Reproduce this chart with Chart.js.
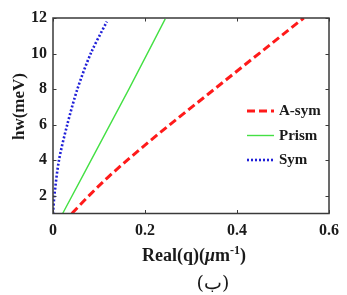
<!DOCTYPE html>
<html>
<head>
<meta charset="utf-8">
<script src="https://cdn.jsdelivr.net/npm/chart.js@4/dist/chart.umd.min.js"></script>
<style>
html,body{margin:0;padding:0;background:#fff;}
#wrap{width:347px;height:295px;position:relative;}
</style>
</head>
<body>
<div id="wrap"><canvas id="c" width="347" height="295"></canvas></div>
<script>
// ---- data ----
const seriesNames = ["A-sym", "Prism", "Sym"];
const asymQ = [0.041, 0.080, 0.120, 0.207, 0.351, 0.545];
const asymE = [1, 2.05, 3.05, 5.0, 8.0, 12];
const prismQ = [0.021, 0.165, 0.244];
const prismE = [1, 8.0, 11.95];
const symQ = [0.0, 0.003, 0.013, 0.031, 0.053, 0.082, 0.117];
const symE = [1, 2, 4, 6, 8, 10, 11.8];
const xTicks = [0, 0.2, 0.4, 0.6];
const yTicks = [2, 4, 6, 8, 10, 12];
const xTitleParts = ["Real(q)(", "\u03BC", "m", "-1", ")"];
const yTitle = "hw(meV)";
const caption = "(\u0628)";

const pts = (xs, ys) => xs.map((x, i) => ({x: x, y: ys[i]}));
const SERIF = "'Liberation Serif', 'Times New Roman', serif";
const AXIS = "#3a3a3a";

const boxPlugin = {
  id: 'box',
  afterDraw(chart) {
    const ctx = chart.ctx, a = chart.chartArea;
    const xs = chart.scales.x, ys = chart.scales.y;
    ctx.save();
    ctx.strokeStyle = AXIS;
    ctx.lineWidth = 1.5;
    ctx.strokeRect(a.left, a.top, a.right - a.left, a.bottom - a.top);
    ctx.lineWidth = 1;
    const tl = 3.5;
    ctx.beginPath();
    xTicks.forEach(v => {
      const px = Math.round(xs.getPixelForValue(v)) + 0.5;
      ctx.moveTo(px, a.bottom); ctx.lineTo(px, a.bottom - tl);
      ctx.moveTo(px, a.top); ctx.lineTo(px, a.top + tl);
    });
    yTicks.forEach(v => {
      const py = Math.round(ys.getPixelForValue(v)) + 0.5;
      ctx.moveTo(a.left, py); ctx.lineTo(a.left + tl, py);
      ctx.moveTo(a.right, py); ctx.lineTo(a.right - tl, py);
    });
    ctx.stroke();

    // legend
    const rows = [111, 135.5, 160];
    chart.data.datasets.forEach((ds, i) => {
      const y = rows[i];
      ctx.strokeStyle = ds.borderColor;
      ctx.lineWidth = ds.borderWidth;
      ctx.setLineDash(ds.borderDash || []);
      ctx.lineCap = 'butt';
      ctx.beginPath();
      ctx.moveTo(247, y); ctx.lineTo(274, y);
      ctx.stroke();
      ctx.setLineDash([]);
      ctx.fillStyle = '#1a1a1a';
      ctx.font = "bold 15px " + SERIF;
      ctx.textBaseline = 'middle';
      ctx.textAlign = 'left';
      ctx.fillText(ds.label, 279, y + 0.5);
    });

    // y title
    ctx.save();
    ctx.translate(20, 106.5);
    ctx.rotate(-Math.PI / 2);
    ctx.font = "bold 17px " + SERIF;
    ctx.fillStyle = '#1a1a1a';
    ctx.textAlign = 'center';
    ctx.textBaseline = 'middle';
    ctx.fillText(yTitle, 0, 0);
    ctx.restore();

    // x title with italic mu and superscript
    const base = 261;
    const fonts = ["bold 18px " + SERIF, "italic bold 18px " + SERIF, "bold 18px " + SERIF, "bold 12px " + SERIF, "bold 18px " + SERIF];
    const offs = [0, 0, 0, -7.5, 0];
    let widths = xTitleParts.map((t, i) => { ctx.font = fonts[i]; return ctx.measureText(t).width; });
    const total = widths.reduce((s, w) => s + w, 0);
    let x = 194 - total / 2;
    ctx.fillStyle = '#1a1a1a';
    ctx.textAlign = 'left';
    ctx.textBaseline = 'alphabetic';
    xTitleParts.forEach((t, i) => {
      ctx.font = fonts[i];
      ctx.fillText(t, x, base + offs[i]);
      x += widths[i];
    });

    // caption
    ctx.font = "19px 'DejaVu Serif', 'Noto Sans', serif";
    ctx.textAlign = 'center';
    ctx.textBaseline = 'middle';
    ctx.fillText(caption, 213, 284);
    ctx.restore();
  }
};

new Chart(document.getElementById('c'), {
  type: 'scatter',
  data: {
    datasets: [
      {label: seriesNames[0], data: pts(asymQ, asymE), showLine: true, borderColor: '#ff1a1a', borderWidth: 3, borderDash: [8, 4], pointRadius: 0, cubicInterpolationMode: 'monotone', fill: false},
      {label: seriesNames[1], data: pts(prismQ, prismE), showLine: true, borderColor: '#44e044', borderWidth: 1.4, pointRadius: 0, cubicInterpolationMode: 'monotone', fill: false},
      {label: seriesNames[2], data: pts(symQ, symE), showLine: true, borderColor: '#2020d8', borderWidth: 2.6, borderDash: [2, 2], pointRadius: 0, tension: 0.3, fill: false}
    ]
  },
  options: {
    responsive: false,
    animation: false,
    devicePixelRatio: 1,
    layout: {padding: {top: 18, right: 11, left: 0, bottom: 0}},
    plugins: {legend: {display: false}, tooltip: {enabled: false}},
    scales: {
      x: {
        type: 'linear', min: 0, max: 0.6,
        afterBuildTicks: s => { s.ticks = xTicks.map(v => ({value: v})); },
        afterFit: s => { s.height = 81.5; },
        grid: {display: false, drawTicks: false},
        border: {display: false},
        ticks: {padding: 8, color: '#1a1a1a', font: {family: SERIF, size: 16, weight: 'bold'}, maxRotation: 0,
          callback: v => (v === 0 ? '0' : String(Math.round(v * 10) / 10))}
      },
      y: {
        type: 'linear', min: 1, max: 12,
        afterBuildTicks: s => { s.ticks = yTicks.map(v => ({value: v})); },
        afterFit: s => { s.width = 53; },
        grid: {display: false, drawTicks: false},
        border: {display: false},
        ticks: {padding: 6, color: '#1a1a1a', font: {family: SERIF, size: 16, weight: 'bold'}}
      }
    }
  },
  plugins: [boxPlugin]
});
</script>
</body>
</html>
